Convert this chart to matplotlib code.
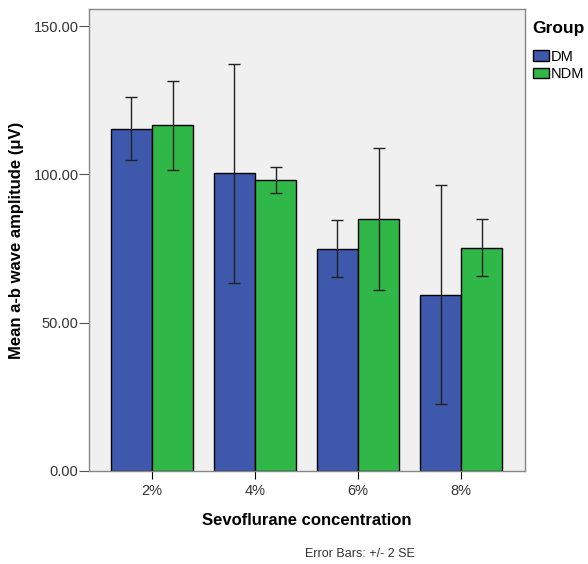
import matplotlib.pyplot as plt
import numpy as np

plt.rcParams["font.family"] = ["Liberation Sans", "DejaVu Sans"]

categories = ["2%", "4%", "6%", "8%"]
dm_mean = [115.5, 100.4, 75.0, 59.5]
dm_err = [10.6, 37.0, 9.6, 37.0]
ndm_mean = [116.6, 98.1, 84.9, 75.3]
ndm_err = [15.0, 4.3, 24.0, 9.7]

x = np.arange(len(categories))
w = 0.4

fig = plt.figure(figsize=(5.88, 5.64), dpi=100)
ax = fig.add_axes([0.1514, 0.1649, 0.7416, 0.8191])
ax.set_facecolor("#F0F0F0")

err_kw = dict(ecolor="#222222", elinewidth=1, capsize=4, capthick=1)
ax.bar(x - w / 2, dm_mean, w, yerr=dm_err, color="#3E58AC", edgecolor="black",
       linewidth=1, label="DM", error_kw=err_kw)
ax.bar(x + w / 2, ndm_mean, w, yerr=ndm_err, color="#2FB847", edgecolor="black",
       linewidth=1, label="NDM", error_kw=err_kw)

ax.set_xlim(-0.61, 3.62)
ax.set_ylim(0, 155.8)
ax.set_yticks([0, 50, 100, 150])
ax.set_yticklabels(["0.00", "50.00", "100.00", "150.00"])
ax.set_xticks(x)
ax.set_xticklabels(categories)
ax.tick_params(axis="y", colors="#333333", labelsize=10.5, length=7, pad=0.5, color="#555555")
ax.tick_params(axis="x", colors="#333333", labelsize=10.5, length=5.5, pad=4, color="black")
for s in ax.spines.values():
    s.set_color("#888888")
    s.set_linewidth(1)

ax.set_xlabel("Sevoflurane concentration", fontsize=12, fontweight="bold", labelpad=11)
ax.set_ylabel("Mean a-b wave amplitude (μV)", fontsize=12, fontweight="bold", labelpad=7)

fig.text(0.612, 0.013, "Error Bars: +/- 2 SE", fontsize=9, color="#333333", ha="center")

# legend title placed separately to get the wider gap before the entries
fig.text(0.906, 0.950, "Group", fontsize=12.5, fontweight="bold", va="center")
leg = fig.legend(loc="upper left", bbox_to_anchor=(0.907, 0.912),
                 frameon=False, fontsize=10.5, handlelength=1.05, handleheight=0.7,
                 handletextpad=0.15, labelspacing=0.25, borderaxespad=0, borderpad=0)

fig.savefig("out.png", dpi=100)
